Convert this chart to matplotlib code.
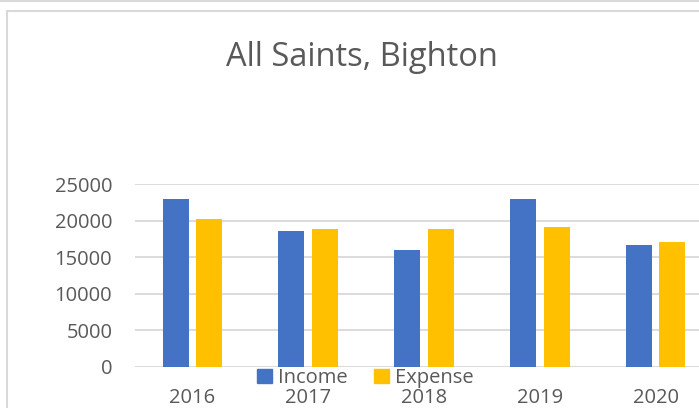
import matplotlib
matplotlib.use("Agg")
import matplotlib.pyplot as plt
from matplotlib.patches import Patch
from matplotlib.lines import Line2D

# Data
years = ["2016", "2017", "2018", "2019", "2020"]
income = [22950, 18560, 16040, 22950, 16640]
expense = [20200, 18870, 18830, 19190, 17090]

blue = "#4472C4"
gold = "#FFC000"
text_col = "#595959"
grid_col = "#D9D9D9"

plt.rcParams["font.family"] = ["Open Sans", "DejaVu Sans"]

W, H = 699, 408
fig = plt.figure(figsize=(W / 100, H / 100), dpi=100)

# axes placement in pixels (right side runs past the crop)
left, right, bottom, top = 134.5, 713.5, 366.7, 184.3
ax = fig.add_axes([left / W, 1 - bottom / H, (right - left) / W, (bottom - top) / H])

x = list(range(len(years)))
bw = 0.224
off = 0.145
ax.bar([i - off for i in x], income, width=bw, color=blue, zorder=3)
ax.bar([i + off for i in x], expense, width=bw, color=gold, zorder=3)

ax.set_xlim(-0.5, len(years) - 0.5)
ax.set_ylim(0, 25000)
ax.set_yticks(range(0, 25001, 5000))
ax.set_xticks(x)
ax.set_xticklabels(years)
ax.grid(axis="y", color=grid_col, linewidth=1.3, zorder=0)
for s in ax.spines.values():
    s.set_visible(False)
ax.tick_params(axis="both", length=0, labelsize=14.5, labelcolor=text_col)
ax.tick_params(axis="y", pad=16)
ax.tick_params(axis="x", pad=15.5)

fig.text(361.5 / W, 1 - 57 / H, "All Saints, Bighton", ha="center", va="center",
         fontsize=23.5, color=text_col)

handles = [Patch(color=blue, label="Income"), Patch(color=gold, label="Expense")]
fig.legend(handles=handles, loc="center", bbox_to_anchor=(365 / W, 1 - 378 / H),
           ncol=2, frameon=False, fontsize=14.5, labelcolor=text_col,
           handlelength=0.75, handleheight=0.75, handletextpad=0.3,
           columnspacing=1.3, borderpad=0)

# chart frame and the sheet line above it
fig.add_artist(Line2D([0, 1], [1 - 0.5 / H, 1 - 0.5 / H], color=grid_col, linewidth=1.5))
fig.add_artist(Line2D([6.5 / W, 1], [1 - 11 / H, 1 - 11 / H], color=grid_col, linewidth=1.5))
fig.add_artist(Line2D([6.5 / W, 6.5 / W], [0, 1 - 11 / H], color=grid_col, linewidth=1.5))

fig.savefig("out.png", dpi=100)
